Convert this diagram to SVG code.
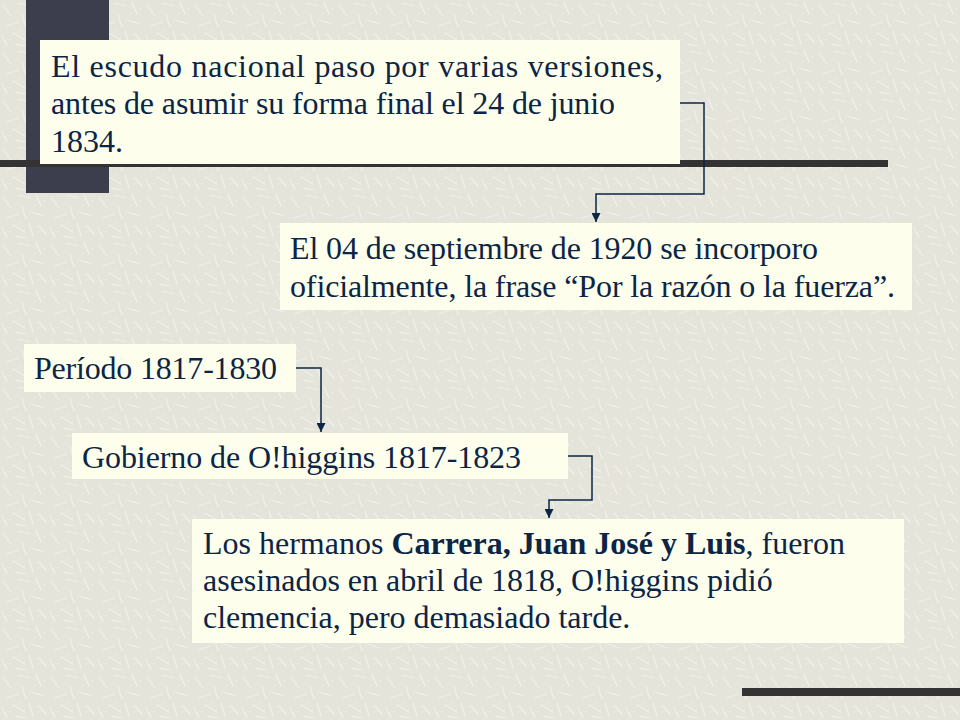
<svg xmlns="http://www.w3.org/2000/svg" width="960" height="720" viewBox="0 0 960 720">
  <defs>
    <pattern id="tex" width="48" height="48" patternUnits="userSpaceOnUse">
      <rect width="48" height="48" fill="#e4e4da"/>
      <g stroke="#f1f1ea" stroke-width="1.2" stroke-linecap="round">
        <line x1="3" y1="5" x2="11" y2="16"/>
        <line x1="18" y1="3" x2="30" y2="6"/>
        <line x1="36" y1="2" x2="41" y2="14"/>
        <line x1="6" y1="26" x2="18" y2="22"/>
        <line x1="22" y1="14" x2="26" y2="27"/>
        <line x1="31" y1="20" x2="44" y2="24"/>
        <line x1="2" y1="36" x2="7" y2="46"/>
        <line x1="13" y1="33" x2="25" y2="40"/>
        <line x1="29" y1="31" x2="33" y2="44"/>
        <line x1="38" y1="33" x2="46" y2="42"/>
        <line x1="15" y1="44" x2="27" y2="46"/>
      </g>
      <g fill="#f6f6f0">
        <circle cx="44" cy="9" r="0.8"/>
        <circle cx="10" cy="40" r="0.8"/>
        <circle cx="35" cy="13" r="0.8"/>
        <circle cx="21" cy="30" r="0.8"/>
      </g>
    </pattern>
    <marker id="arr" viewBox="0 0 10 10" refX="10" refY="5" markerWidth="9" markerHeight="9" markerUnits="userSpaceOnUse" orient="auto">
      <path d="M0,0 L10,5 L0,10 Z" fill="#0b2546"/>
    </marker>
    <style>
      .box { fill: #fefeec; }
      .t { font-family: "Liberation Serif", "Times New Roman", serif; font-size: 32px; fill: #0b2546; }
      .b { font-weight: bold; }
      .conn { fill: none; stroke: #0b2546; stroke-width: 1.5; }
      .bar { fill: #333333; }
    </style>
  </defs>

  <rect width="960" height="720" fill="url(#tex)"/>

  <g id="decor">
    <rect x="26" y="0" width="83" height="193" fill="#3c3e4e"/>
    <rect class="bar" x="0" y="160" width="888" height="7"/>
    <rect class="bar" x="742" y="688" width="218" height="8"/>
  </g>

  <g id="connectors">
    <path class="conn" d="M680,103 H704 V194 H596 V222" marker-end="url(#arr)"/>
    <path class="conn" d="M296,368 H321 V432" marker-end="url(#arr)"/>
    <path class="conn" d="M568,456 H592 V500 H549 V518" marker-end="url(#arr)"/>
  </g>

  <g id="node1">
    <rect class="box" x="40" y="40" width="640" height="124"/>
    <text class="t" x="51" y="77" textLength="612">El escudo nacional paso por varias versiones,</text>
    <text class="t" x="51" y="114" textLength="564">antes de asumir su forma final el 24 de junio</text>
    <text class="t" x="51" y="152">1834.</text>
  </g>

  <g id="node2">
    <rect class="box" x="280" y="223" width="632" height="87"/>
    <text class="t" x="290" y="259" textLength="528">El 04 de septiembre de 1920 se incorporo</text>
    <text class="t" x="290" y="297" textLength="605">oficialmente, la frase “Por la razón o la fuerza”.</text>
  </g>

  <g id="node3">
    <rect class="box" x="24" y="344" width="272" height="48"/>
    <text class="t" x="34" y="379" textLength="243">Período 1817-1830</text>
  </g>

  <g id="node4">
    <rect class="box" x="72" y="433" width="496" height="46"/>
    <text class="t" x="82" y="468" textLength="439">Gobierno de O!higgins 1817-1823</text>
  </g>

  <g id="node5">
    <rect class="box" x="192" y="519" width="712" height="124"/>
    <text class="t" x="203" y="554">Los hermanos <tspan class="b">Carrera, Juan José y Luis</tspan>, fueron</text>
    <text class="t" x="203" y="591">asesinados en abril de 1818, O!higgins pidió</text>
    <text class="t" x="203" y="628">clemencia, pero demasiado tarde.</text>
  </g>
</svg>
